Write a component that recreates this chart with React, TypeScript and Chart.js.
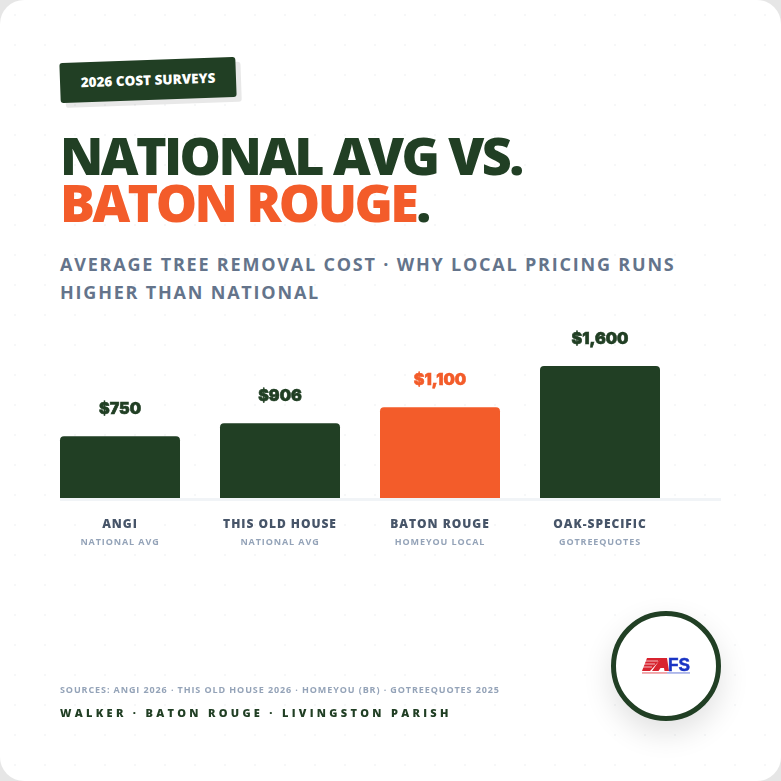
import React, { useEffect, useRef } from 'react';
import Chart from 'chart.js/auto';

const categories = ['ANGI', 'THIS OLD HOUSE', 'BATON ROUGE', 'OAK-SPECIFIC'];
const subLabels = ['NATIONAL AVG', 'NATIONAL AVG', 'HOMEYOU LOCAL', 'GOTREEQUOTES'];
const costs = [750, 906, 1100, 1600];
const valueLabels = ['$750', '$906', '$1,100', '$1,600'];

const GREEN = '#213f24';
const ORANGE = '#f35c2a';
const barColors = [GREEN, GREEN, ORANGE, GREEN];

// value labels, names under the bars and the baseline
const labelsPlugin = {
  id: 'barLabels',
  afterDatasetsDraw(chart: any) {
    const { ctx, scales, chartArea } = chart;
    const meta = chart.getDatasetMeta(0);
    ctx.save();
    ctx.fillStyle = '#f1f4f7';
    ctx.fillRect(60, chartArea.bottom, 661, 3);
    ctx.textAlign = 'center';
    ctx.textBaseline = 'alphabetic';
    meta.data.forEach((bar: any, i: number) => {
      const x = scales.x.getPixelForValue(i);
      ctx.font = '900 16px Inter';
      ctx.letterSpacing = '0px';
      ctx.fillStyle = barColors[i];
      ctx.strokeStyle = barColors[i];
      ctx.lineWidth = 0.6;
      ctx.fillText(valueLabels[i], x, bar.y - 22);
      ctx.strokeText(valueLabels[i], x, bar.y - 22);
      ctx.font = '800 12px "Open Sans"';
      ctx.letterSpacing = '0.96px';
      ctx.fillStyle = '#475569';
      ctx.fillText(categories[i], x, chartArea.bottom + 30);
      ctx.font = '700 9px "Open Sans"';
      ctx.letterSpacing = '0.9px';
      ctx.fillStyle = '#94a3b8';
      ctx.fillText(subLabels[i], x, chartArea.bottom + 47);
    });
    ctx.restore();
  },
};

const CostChart: React.FC = () => {
  const chartRef = useRef<HTMLCanvasElement>(null);

  useEffect(() => {
    if (!chartRef.current) return;
    const chart = new Chart(chartRef.current, {
      type: 'bar',
      data: {
        labels: categories,
        datasets: [
          {
            data: costs,
            backgroundColor: barColors,
            borderRadius: { topLeft: 4, topRight: 4, bottomLeft: 0, bottomRight: 0 },
            borderSkipped: false,
            barPercentage: 0.75,
            categoryPercentage: 1,
          },
        ],
      },
      options: {
        animation: false,
        responsive: false,
        devicePixelRatio: 1,
        layout: { padding: { left: 40, right: 101, top: 333, bottom: 283 } },
        plugins: { legend: { display: false }, tooltip: { enabled: false } },
        scales: {
          x: { display: false },
          y: { display: false, min: 0, max: 2000 },
        },
      },
      plugins: [labelsPlugin],
    });
    return () => chart.destroy();
  }, []);

  return (
    <canvas
      ref={chartRef}
      width={781}
      height={781}
      style={{ position: 'absolute', left: 0, top: 0 }}
    />
  );
};

const AfsLogo: React.FC = () => (
  <svg
    width="50"
    height="19"
    viewBox="0 0 50 19"
    style={{ position: 'absolute', left: 642, top: 656, filter: 'blur(0.35px)' }}
  >
    <path d="M5 2 L20 2 L8 15 L0 15 Z" fill="#d8232f" />
    <path d="M3 5 L16 5 M2 8 L13 8 M1 11 L10 11" stroke="#fff" strokeWidth="0.7" />
    <path d="M19 2 L25 2 L27 15 L22.5 15 L22 12 L18.5 12 L16.5 15 L10 15 Z" fill="#d8232f" />
    <text x="26" y="15" fontFamily="Liberation Sans" fontWeight="700" fontSize="18" fill="#1b35c4" stroke="#1b35c4" strokeWidth="0.5" textLength="22" lengthAdjust="spacingAndGlyphs">FS</text>
    <rect x="0" y="16.4" width="25" height="1.1" fill="#d8232f" opacity="0.7" />
    <rect x="25" y="16.4" width="23" height="1.1" fill="#1b35c4" opacity="0.6" />
  </svg>
);

const App: React.FC = () => {
  const abs = (left: number, top: number): React.CSSProperties => ({
    position: 'absolute',
    left,
    top,
    whiteSpace: 'nowrap',
    fontFamily: '"Open Sans"',
  });

  return (
    <div style={{ position: 'absolute', left: 0, top: 0, width: 781, height: 781, background: '#e6e6e6', overflow: 'hidden' }}>
      <div
        style={{
          position: 'absolute',
          inset: 0,
          borderRadius: 24,
          backgroundColor: '#fff',
          backgroundImage: 'radial-gradient(circle, #f6f7f8 1px, transparent 1.2px)',
          backgroundSize: '30px 30px',
          backgroundPosition: '0 0',
        }}
      />
      <div
        style={{
          ...abs(60, 60),
          width: 176,
          height: 40,
          background: GREEN,
          borderRadius: 3,
          transform: 'rotate(-2deg)',
          boxShadow: '5px 5px 0 rgba(0,0,0,0.09)',
          color: '#fff',
          fontWeight: 800,
          fontSize: 13.5,
          lineHeight: '40px',
          textAlign: 'center',
        }}
      >
        2026 COST SURVEYS
      </div>
      <div style={{ ...abs(60, 131), fontWeight: 800, fontSize: 52, letterSpacing: -2.6, lineHeight: '47px', color: GREEN }}>
        NATIONAL AVG VS.
        <br />
        <span style={{ color: ORANGE }}>BATON ROUGE</span>.
      </div>
      <div style={{ ...abs(60, 250), fontWeight: 700, fontSize: 18, letterSpacing: 1.8, lineHeight: '28px', color: '#64748b' }}>
        AVERAGE TREE REMOVAL COST · WHY LOCAL PRICING RUNS
        <br />
        HIGHER THAN NATIONAL
      </div>
      <CostChart />
      <div style={{ ...abs(60, 683), fontWeight: 700, fontSize: 9, letterSpacing: 0.9, color: '#94a3b8' }}>
        SOURCES: ANGI 2026 · THIS OLD HOUSE 2026 · HOMEYOU (BR) · GOTREEQUOTES 2025
      </div>
      <div style={{ ...abs(60, 705), fontWeight: 800, fontSize: 11, letterSpacing: 3.3, color: GREEN }}>
        WALKER · BATON ROUGE · LIVINGSTON PARISH
      </div>
      <div
        style={{
          position: 'absolute',
          left: 611,
          top: 611,
          width: 110,
          height: 110,
          boxSizing: 'border-box',
          borderRadius: '50%',
          border: '5px solid ' + GREEN,
          background: '#fff',
          boxShadow: '0 12px 30px rgba(0,0,0,0.12)',
        }}
      />
      <AfsLogo />
    </div>
  );
};

export default App;
